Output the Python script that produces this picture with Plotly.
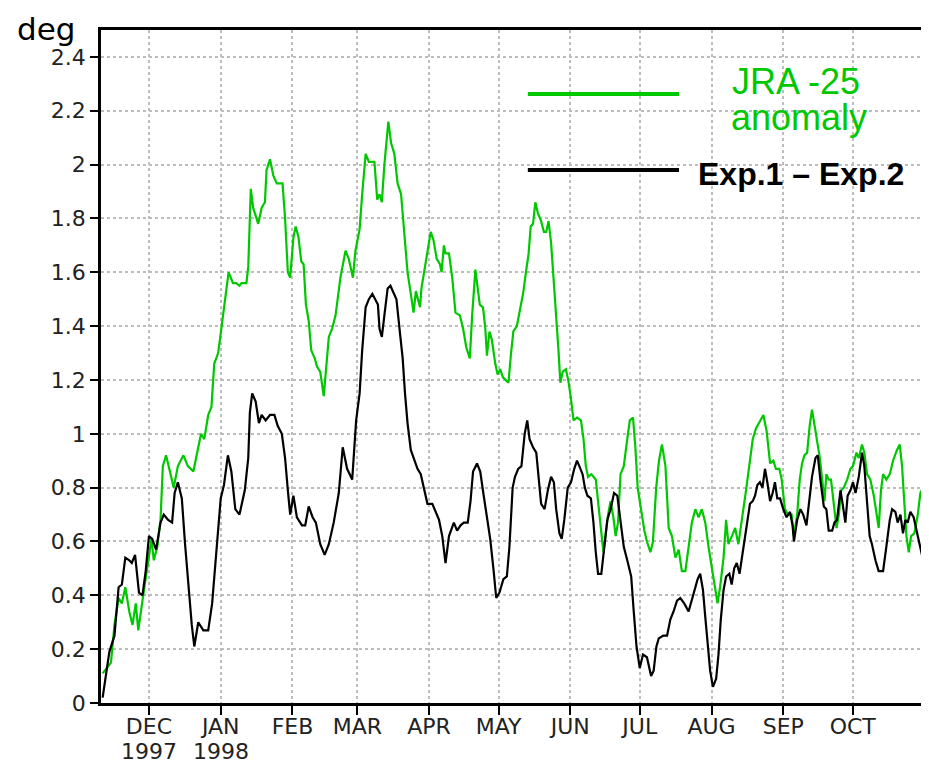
import pandas as pd
import plotly.graph_objects as go

# ---- data (days after 1997-12-01, value in deg) ----
base_date = "1997-12-01"

exp_days = [-20, -17.1, -14.9, -13.1, -11.7, -10.2, -8.5, -7.4, -6.0, -4.3, -2.8, -1.4, 0, 1.4, 3.1, 5.0, 6.4, 8.3, 10, 11.1,
            12.5, 14.2, 15.6, 17.1, 18.5, 19.6, 21.3, 23.5, 25.6, 27.3, 28.4, 29.6, 31, 32.4, 34.1, 35.6, 37.3, 39.1, 41.4, 42.9,
            43.6, 44.6, 46.1, 47.5, 48.7, 50.4, 52.3, 54.2, 55.6, 57.4, 58.8, 60, 61, 62.4, 63.9, 66.1, 67.5, 69, 70.7, 72.1,
            74, 75.9, 77.7, 79.8, 82, 83.7, 85.6, 87.8, 89.5, 91, 92.1, 93.6, 95, 96.5, 98.9, 99.6, 100.6, 101.7, 103.1, 104.3,
            105.7, 106.9, 108.6, 109.6, 110.6, 111.7, 113.1, 114.6, 116, 117.4, 118.9, 120.3, 122.4, 123.9, 125.3, 126.7, 128.1, 129.6, 131.7, 133.1,
            134.6, 136, 137.7, 138.9, 140, 141.7, 143.1, 144.6, 146, 147.4, 148.9, 150, 151.4, 153.1, 154.6, 155.7, 157.1, 158.1, 159.5, 160.9,
            162.3, 163.4, 164.4, 165.9, 167.3, 168.3, 169.4, 170.9, 172.3, 173.7, 174.9, 175.9, 177.3, 178.3, 179.4, 180.9, 182.3, 183.7, 184.9, 185.9,
            187.3, 188.3, 189.4, 190.9, 192, 193, 194, 195.4, 196.6, 198, 199.4, 200.9, 202.3, 203.7, 205.1, 206.6, 208.3, 209.4, 210.6, 212,
            213.4, 215.1, 216.9, 218, 219.2, 220.2, 222.1, 223.8, 225.2, 226.6, 228.1, 229.5, 231.2, 233.1, 234.5, 236, 237, 238.1, 239.3, 240.3,
            241.3, 242.4, 243.6, 245, 246, 247, 248.2, 249.3, 250.7, 251.7, 252.8, 253.9, 255.1, 256.1, 257.1, 258.2, 259.6, 260.8, 261.8, 262.8,
            263.9, 265, 266.1, 267.1, 268.3, 269.4, 270.4, 271.4, 272.6, 274, 275.4, 276.9, 278, 278.6, 280, 281.4, 282.6, 284, 285, 286.4,
            287.9, 288.9, 290, 291.5, 292.6, 293.6, 295.1, 296.1, 297.2, 298.7, 299.8, 300.8, 301.8, 303, 304.1, 305.2, 306.6, 308, 309, 310.2,
            311.3, 312.3, 313.8, 315.2, 317.1, 318.5, 320, 321, 322.4, 323.4, 324.6, 325.7, 326.7, 327.7, 328.9, 330.3, 331.8, 333.2, 334.4]
exp_vals = [0.02, 0.19, 0.25, 0.43, 0.44, 0.54, 0.53, 0.52, 0.55, 0.41, 0.40, 0.49, 0.62, 0.61, 0.57, 0.67, 0.70, 0.68, 0.67, 0.78,
            0.82, 0.76, 0.59, 0.43, 0.29, 0.21, 0.30, 0.27, 0.27, 0.37, 0.49, 0.64, 0.76, 0.81, 0.92, 0.86, 0.72, 0.70, 0.79, 0.91,
            1.08, 1.15, 1.12, 1.04, 1.07, 1.05, 1.07, 1.07, 1.03, 1.00, 0.91, 0.79, 0.70, 0.77, 0.69, 0.66, 0.66, 0.73, 0.69, 0.67,
            0.59, 0.55, 0.59, 0.67, 0.78, 0.95, 0.87, 0.83, 1.05, 1.15, 1.31, 1.47, 1.50, 1.52, 1.48, 1.39, 1.36, 1.44, 1.54, 1.55,
            1.52, 1.50, 1.36, 1.28, 1.15, 1.04, 0.94, 0.90, 0.87, 0.85, 0.79, 0.74, 0.74, 0.71, 0.68, 0.62, 0.52, 0.62, 0.67, 0.64,
            0.66, 0.67, 0.67, 0.75, 0.86, 0.89, 0.86, 0.77, 0.69, 0.61, 0.49, 0.39, 0.41, 0.46, 0.47, 0.58, 0.80, 0.84, 0.87, 0.88,
            1.00, 1.05, 0.98, 0.95, 0.93, 0.83, 0.74, 0.72, 0.79, 0.84, 0.82, 0.72, 0.63, 0.61, 0.68, 0.80, 0.82, 0.87, 0.90, 0.88,
            0.85, 0.80, 0.77, 0.76, 0.67, 0.56, 0.48, 0.48, 0.58, 0.68, 0.72, 0.78, 0.77, 0.67, 0.58, 0.53, 0.47, 0.34, 0.21, 0.13,
            0.18, 0.17, 0.10, 0.12, 0.21, 0.24, 0.25, 0.25, 0.31, 0.34, 0.38, 0.39, 0.37, 0.34, 0.38, 0.43, 0.46, 0.48, 0.42, 0.32,
            0.22, 0.12, 0.06, 0.09, 0.18, 0.31, 0.42, 0.47, 0.48, 0.44, 0.50, 0.52, 0.48, 0.54, 0.59, 0.66, 0.74, 0.75, 0.77, 0.81,
            0.82, 0.80, 0.87, 0.82, 0.75, 0.78, 0.82, 0.76, 0.76, 0.72, 0.69, 0.71, 0.66, 0.60, 0.68, 0.72, 0.70, 0.66, 0.73, 0.84,
            0.91, 0.92, 0.83, 0.73, 0.72, 0.64, 0.64, 0.67, 0.68, 0.79, 0.73, 0.67, 0.77, 0.79, 0.82, 0.78, 0.84, 0.93, 0.88, 0.75,
            0.62, 0.59, 0.53, 0.49, 0.49, 0.58, 0.68, 0.72, 0.71, 0.67, 0.70, 0.63, 0.68, 0.67, 0.71, 0.69, 0.63, 0.58, 0.53]

jra_days = [-20, -16.4, -14.9, -13.1, -11.7, -10.2, -8.5, -7.1, -5.7, -4.6, -2.8, -1.4, 0, 1.1, 2.1, 3.6, 5.0, 6.0, 7.4, 8.8,
            10.7, 12.5, 14.9, 16.8, 19.2, 20.6, 22.5, 23.9, 25.6, 27.0, 28.2, 29.9, 31.6, 33.0, 34.4, 36.3, 37.7, 39.1, 40, 42.1,
            42.9, 44, 45, 47.2, 48.7, 50.1, 50.8, 52.3, 53.7, 55.2, 57.7, 58.8, 60, 61, 62.4, 63.4, 64.6, 65.8, 66.8, 67.8,
            69, 70.1, 71.6, 72.6, 74, 75.5, 76.5, 77.7, 79.1, 80.6, 82.7, 84.9, 86.3, 88.1, 89.2, 91, 92.1, 93.6, 95, 96.5,
            97.4, 98.6, 99.6, 100.6, 101.7, 103.4, 104.6, 106, 107.4, 108.9, 110.3, 111.7, 113.1, 114.3, 115.3, 116.3, 117.1, 117.7, 118.9, 120.3,
            121.7, 122.9, 124.3, 125.7, 126.4, 127.4, 128.1, 129.6, 131, 132.4, 134.3, 135.7, 137.1, 138.6, 139.6, 141, 142.1, 142.9, 144.3, 145.3,
            146, 147.1, 148.1, 149.6, 150.6, 151.7, 152.9, 154.3, 155.3, 156.3, 157.4, 158.9, 160.3, 161.6, 163, 164, 164.9, 165.9, 166.9, 168,
            169.4, 170.6, 171.6, 172.6, 173.7, 174.9, 175.9, 176.9, 177.7, 178.7, 180.1, 181.1, 182.3, 183.4, 184.9, 186.6, 187.7, 188.7, 189.7, 191.1,
            193, 194, 195.1, 196.3, 197.3, 198.3, 199.4, 200.6, 201.6, 202.6, 203.7, 205.1, 206.6, 207.7, 209.1, 210.1, 211.1, 212.6, 214, 215.1,
            216.6, 217.7, 219.1, 220.3, 221.6, 223.1, 224.5, 225.9, 227.4, 228.8, 230.2, 231.7, 233.1, 234.5, 236, 237.4, 238.8, 240.3, 241.7, 243.9,
            245.6, 246.7, 248.2, 249.3, 250.3, 251.8, 253.2, 254.6, 256.1, 257.9, 259.6, 260.8, 262.2, 264, 265.4, 266.8, 268.3, 269.7, 270.8, 272.3,
            273.3, 274.7, 276.1, 277.6, 278.6, 280, 281.1, 282.1, 283.1, 284.3, 285.4, 286.4, 287.5, 288.6, 289.8, 290.8, 291.8, 292.6, 293.6, 294.6,
            295.8, 297, 298, 299, 300.1, 301.6, 303, 304.1, 305.6, 306.6, 308, 309, 310.2, 311.6, 313.1, 314.5, 315.2, 316.2, 317.1, 318.5,
            320, 321.4, 323.1, 324.3, 325.3, 326.3, 327.2, 328.2, 329.2, 330.6, 332.1, 333.2, 334.4]
jra_vals = [0.11, 0.15, 0.29, 0.39, 0.37, 0.43, 0.34, 0.29, 0.37, 0.27, 0.38, 0.46, 0.54, 0.61, 0.53, 0.58, 0.68, 0.88, 0.92, 0.87,
            0.80, 0.88, 0.92, 0.88, 0.86, 0.92, 1.00, 0.98, 1.07, 1.10, 1.26, 1.30, 1.41, 1.50, 1.60, 1.56, 1.56, 1.55, 1.56, 1.56,
            1.62, 1.91, 1.84, 1.78, 1.84, 1.86, 1.98, 2.02, 1.96, 1.93, 1.93, 1.80, 1.60, 1.58, 1.73, 1.77, 1.73, 1.64, 1.63, 1.48,
            1.42, 1.31, 1.28, 1.25, 1.23, 1.14, 1.23, 1.36, 1.39, 1.44, 1.58, 1.68, 1.65, 1.58, 1.68, 1.76, 1.89, 2.04, 2.01, 2.01,
            2.01, 1.87, 1.89, 1.86, 2.00, 2.16, 2.08, 2.04, 1.93, 1.89, 1.73, 1.60, 1.52, 1.45, 1.53, 1.50, 1.47, 1.54, 1.60, 1.68,
            1.75, 1.72, 1.65, 1.63, 1.60, 1.70, 1.67, 1.67, 1.58, 1.45, 1.44, 1.39, 1.32, 1.28, 1.44, 1.61, 1.52, 1.48, 1.47, 1.39,
            1.29, 1.38, 1.35, 1.26, 1.22, 1.24, 1.21, 1.20, 1.19, 1.29, 1.38, 1.40, 1.46, 1.52, 1.61, 1.67, 1.77, 1.78, 1.86, 1.82,
            1.79, 1.75, 1.75, 1.79, 1.71, 1.57, 1.42, 1.31, 1.19, 1.23, 1.24, 1.20, 1.13, 1.05, 1.06, 1.05, 0.98, 0.88, 0.84, 0.85,
            0.83, 0.75, 0.65, 0.56, 0.63, 0.70, 0.75, 0.69, 0.62, 0.67, 0.85, 0.88, 0.98, 1.05, 1.06, 0.95, 0.80, 0.72, 0.64, 0.60,
            0.56, 0.60, 0.80, 0.90, 0.96, 0.88, 0.65, 0.62, 0.54, 0.57, 0.49, 0.49, 0.58, 0.67, 0.72, 0.69, 0.72, 0.67, 0.58, 0.46,
            0.37, 0.43, 0.54, 0.68, 0.59, 0.62, 0.65, 0.59, 0.69, 0.79, 0.90, 0.98, 1.02, 1.05, 1.07, 1.01, 0.89, 0.90, 0.87, 0.87,
            0.83, 0.72, 0.70, 0.70, 0.62, 0.70, 0.83, 0.89, 0.92, 0.93, 1.03, 1.09, 1.03, 0.98, 0.91, 0.83, 0.75, 0.85, 0.83, 0.83,
            0.75, 0.65, 0.70, 0.79, 0.80, 0.83, 0.87, 0.88, 0.93, 0.91, 0.96, 0.93, 0.85, 0.83, 0.77, 0.68, 0.65, 0.79, 0.85, 0.83,
            0.85, 0.90, 0.94, 0.96, 0.88, 0.74, 0.62, 0.56, 0.62, 0.63, 0.70, 0.78, 0.80]

month_ticks = ["1997-12-01", "1998-01-01", "1998-02-01", "1998-03-01", "1998-04-01", "1998-05-01",
               "1998-06-01", "1998-07-01", "1998-08-01", "1998-09-01", "1998-10-01"]
month_labels = ["DEC", "JAN", "FEB", "MAR", "APR", "MAY", "JUN", "JUL", "AUG", "SEP", "OCT"]
year_ticks = ["1997-12-01", "1998-01-01"]
year_labels = ["1997", "1998"]
y_ticks = [0, 0.2, 0.4, 0.6, 0.8, 1, 1.2, 1.4, 1.6, 1.8, 2, 2.2, 2.4]
y_labels = ["0", "0.2", "0.4", "0.6", "0.8", "1", "1.2", "1.4", "1.6", "1.8", "2", "2.2", "2.4"]

t0 = pd.Timestamp(base_date)
exp_x = t0 + pd.to_timedelta(exp_days, unit="D")
jra_x = t0 + pd.to_timedelta(jra_days, unit="D")

GREEN = "rgb(0,200,0)"

fig = go.Figure()
fig.add_trace(go.Scatter(x=jra_x, y=jra_vals, mode="lines", line=dict(color=GREEN, width=2.2),
                         name="JRA -25 anomaly", showlegend=False))
fig.add_trace(go.Scatter(x=exp_x, y=exp_vals, mode="lines", line=dict(color="black", width=2.2),
                         name="Exp.1 – Exp.2", showlegend=False))

tick_font = dict(family="DejaVu Sans", size=22, color="#222222")

# the page body has an 8px margin, so the figure is 8px smaller and margins shifted
fig.update_layout(
    width=921, height=758,
    margin=dict(l=93, r=4, t=22, b=63, autoexpand=False),
    paper_bgcolor="white", plot_bgcolor="white",
    xaxis=dict(
        type="date", automargin=False,
        range=["1997-11-10 07:00", "1998-11-01 05:00"],
        tickvals=month_ticks, ticktext=month_labels,
        ticks="outside", ticklen=9, tickwidth=2, tickcolor="black",
        ticklabelstandoff=-7,
        showline=True, linecolor="black", linewidth=2.5, mirror=True,
        showgrid=True, gridcolor="#bdbdbd", griddash="dot", gridwidth=1.5,
        tickfont=tick_font, tickangle=0, zeroline=False,
    ),
    yaxis=dict(
        range=[0, 2.5], automargin=False,
        tickvals=y_ticks, ticktext=y_labels,
        ticks="outside", ticklen=8, tickwidth=2, tickcolor="black",
        showline=True, linecolor="black", linewidth=2.5, mirror=True,
        showgrid=True, gridcolor="#bdbdbd", griddash="dot", gridwidth=1.5,
        tickfont=tick_font, zeroline=False,
    ),
)

# year labels under the first two month ticks
for xv, yl in zip(year_ticks, year_labels):
    fig.add_annotation(text=yl, x=xv, xref="x", yref="paper", y=-0.0725,
                       xanchor="center", yanchor="middle", showarrow=False, font=tick_font)

# legend-like key drawn inside the plot
fig.add_shape(type="line", xref="paper", yref="paper", x0=0.518, x1=0.7015, y0=0.905, y1=0.905,
              line=dict(color=GREEN, width=4))
fig.add_shape(type="line", xref="paper", yref="paper", x0=0.518, x1=0.7015, y0=0.792, y1=0.792,
              line=dict(color="black", width=4))
fig.add_annotation(text="JRA -25", xref="paper", yref="paper", x=0.8434, y=0.924,
                   xanchor="center", yanchor="middle", showarrow=False,
                   font=dict(family="Liberation Sans", size=36, color=GREEN))
fig.add_annotation(text="anomaly", xref="paper", yref="paper", x=0.8471, y=0.870,
                   xanchor="center", yanchor="middle", showarrow=False,
                   font=dict(family="Liberation Sans", size=36, color=GREEN))
fig.add_annotation(text="<b>Exp.1 – Exp.2</b>", xref="paper", yref="paper", x=0.850, y=0.786,
                   xanchor="center", yanchor="middle", showarrow=False,
                   font=dict(family="Liberation Sans", size=32, color="black"))

# unit label
fig.add_annotation(text="deg", xref="paper", yref="paper", x=-0.104, y=1.031,
                   xanchor="left", yanchor="top", showarrow=False,
                   font=dict(family="DejaVu Sans", size=31, color="black"))

fig.write_html("out.html")
